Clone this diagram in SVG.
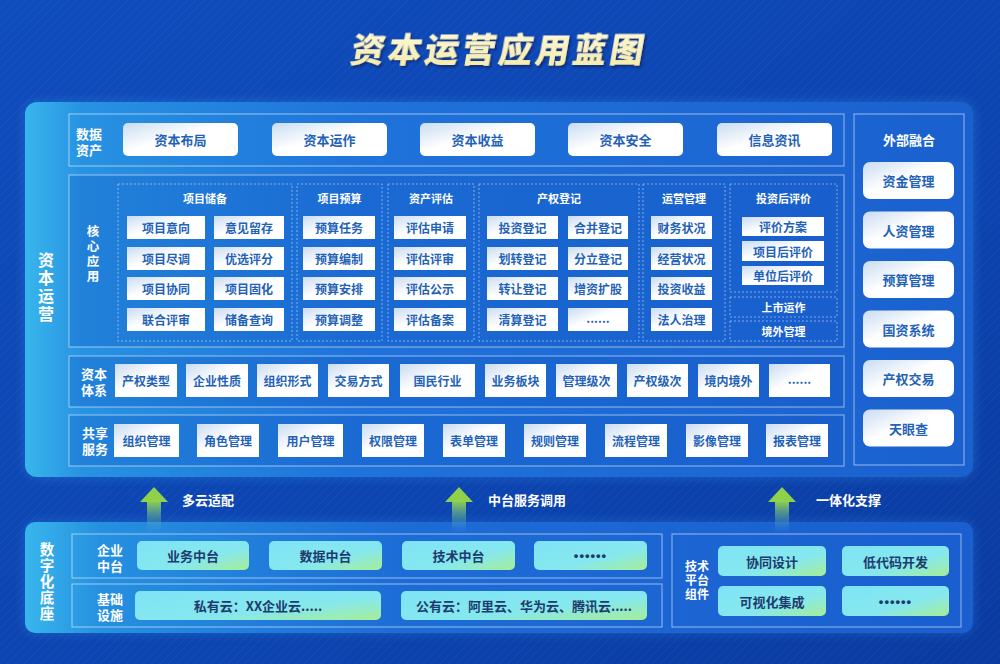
<svg xmlns="http://www.w3.org/2000/svg" width="1000" height="664" viewBox="0 0 1000 664">
<defs>
  <linearGradient id="bg" x1="0" y1="0" x2="1" y2="1">
    <stop offset="0" stop-color="#0f4cbc"/>
    <stop offset="0.6" stop-color="#0c44b0"/>
    <stop offset="1" stop-color="#0a3aa0"/>
  </linearGradient>
  <pattern id="hatch" width="6" height="6" patternUnits="userSpaceOnUse" patternTransform="rotate(45)">
    <line x1="0" y1="0" x2="0" y2="6" stroke="#ffffff" stroke-opacity="0.04" stroke-width="2"/>
  </pattern>
  <linearGradient id="panel" x1="0" y1="0" x2="1" y2="0">
    <stop offset="0" stop-color="#38b6ec"/>
    <stop offset="0.06" stop-color="#2792e2"/>
    <stop offset="0.35" stop-color="#1f73da"/>
    <stop offset="1" stop-color="#1a60cf"/>
  </linearGradient>
  <linearGradient id="panel2" x1="0" y1="0" x2="1" y2="0">
    <stop offset="0" stop-color="#38b6ec"/>
    <stop offset="0.08" stop-color="#2590e0"/>
    <stop offset="0.4" stop-color="#1d6cd6"/>
    <stop offset="1" stop-color="#1a5ecf"/>
  </linearGradient>
  <linearGradient id="btn" x1="0" y1="0" x2="1" y2="1">
    <stop offset="0" stop-color="#c9dcf2"/>
    <stop offset="0.45" stop-color="#ffffff"/>
    <stop offset="1" stop-color="#ffffff"/>
  </linearGradient>
  <linearGradient id="cyan" x1="0" y1="0" x2="1" y2="1">
    <stop offset="0" stop-color="#7fe3f6"/>
    <stop offset="0.6" stop-color="#86e8ee"/>
    <stop offset="1" stop-color="#a6ee96"/>
  </linearGradient>
  <linearGradient id="shaft" x1="0" y1="0" x2="0" y2="1">
    <stop offset="0" stop-color="#8fd14a"/>
    <stop offset="1" stop-color="#4aa0e0" stop-opacity="0"/>
  </linearGradient>
  <linearGradient id="title" x1="0" y1="0" x2="0" y2="1">
    <stop offset="0" stop-color="#fffbe0"/>
    <stop offset="1" stop-color="#f3eaa8"/>
  </linearGradient>
  <filter id="tshadow" x="-10%" y="-30%" width="120%" height="160%">
    <feDropShadow dx="2" dy="2" stdDeviation="0.8" flood-color="#0a2a6a" flood-opacity="0.9"/>
  </filter>
  <filter id="glow" x="-5%" y="-10%" width="110%" height="120%">
    <feGaussianBlur stdDeviation="6"/>
  </filter>
  <style>
    text { font-family: "Noto Sans CJK SC", "Noto Sans", sans-serif; font-weight: 700; }
    .box { fill: none; stroke: #ffffff; stroke-opacity: 0.55; stroke-width: 1; }
    .inner { fill: #0f4fc0; fill-opacity: 0.25; stroke: #ffffff; stroke-opacity: 0.55; stroke-width: 1; }
    .dash { fill: none; stroke: #ffffff; stroke-opacity: 0.45; stroke-width: 1; stroke-dasharray: 2 2; }
    .btn { fill: url(#btn); }
    .cy { fill: url(#cyan); }
    .bt { fill: #1f62b8; font-size: 13px; text-anchor: middle; dominant-baseline: central; }
    .st { fill: #1f62b8; font-size: 12px; text-anchor: middle; dominant-baseline: central; }
    .ct { fill: #1d3c6c; font-size: 13px; text-anchor: middle; dominant-baseline: central; }
    .dots { font-family: "Liberation Sans", sans-serif; font-size: 13px; letter-spacing: 1px; }
    .wl { fill: #ffffff; font-size: 13px; text-anchor: middle; dominant-baseline: central; }
    .gt { fill: #ffffff; font-size: 11px; text-anchor: middle; dominant-baseline: central; }
    .vt { fill: #ffffff; writing-mode: vertical-rl; text-orientation: upright; text-anchor: start; }
    .al { fill: #ffffff; font-size: 13px; dominant-baseline: central; }
    .head { fill: #8fd14a; }
  </style>
</defs>

<rect x="0" y="0" width="1000" height="664" fill="url(#bg)"/>
<rect x="0" y="0" width="1000" height="664" fill="url(#hatch)"/>

<text x="500" y="47" text-anchor="middle" dominant-baseline="central" font-size="34" letter-spacing="3" fill="url(#title)" filter="url(#tshadow)" transform="translate(8 0) skewX(-10)" style="font-weight:900">资本运营应用蓝图</text>

<!-- main panel -->
<g id="main-panel">
  <rect x="25" y="102" width="948" height="375" rx="12" fill="#3aa0f0" opacity="0.35" filter="url(#glow)"/>
  <rect x="25" y="102" width="948" height="375" rx="12" fill="url(#panel)"/>
  <text class="vt" x="46" y="252" font-size="16" letter-spacing="2">资本运营</text>
</g>

<g id="data-assets">
  <rect class="box" x="69" y="114" width="775" height="52"/>
  <text class="wl"><tspan x="89" y="133">数据</tspan><tspan x="89" y="149">资产</tspan></text>
  <rect class="btn" x="123" y="123" width="115" height="33" rx="5"/><text class="bt" x="180.5" y="139.5">资本布局</text>
  <rect class="btn" x="272" y="123" width="115" height="33" rx="5"/><text class="bt" x="329.5" y="139.5">资本运作</text>
  <rect class="btn" x="420" y="123" width="115" height="33" rx="5"/><text class="bt" x="477.5" y="139.5">资本收益</text>
  <rect class="btn" x="568" y="123" width="115" height="33" rx="5"/><text class="bt" x="625.5" y="139.5">资本安全</text>
  <rect class="btn" x="717" y="123" width="115" height="33" rx="5"/><text class="bt" x="774.5" y="139.5">信息资讯</text>
</g>

<g id="core-apps">
  <rect class="inner" x="69" y="175" width="775" height="172"/>
  <text class="vt" x="93" y="224.75" font-size="12.5" letter-spacing="2.5">核心应用</text>

  <g id="proj-reserve">
    <rect class="dash" x="118" y="184" width="174" height="157"/>
    <text class="gt" x="205" y="198">项目储备</text>
    <rect class="btn" x="127" y="216" width="78" height="23"/><text class="st" x="166" y="227.5">项目意向</text>
    <rect class="btn" x="214" y="216" width="70" height="23"/><text class="st" x="249" y="227.5">意见留存</text>
    <rect class="btn" x="127" y="247" width="78" height="23"/><text class="st" x="166" y="258.5">项目尽调</text>
    <rect class="btn" x="214" y="247" width="70" height="23"/><text class="st" x="249" y="258.5">优选评分</text>
    <rect class="btn" x="127" y="277" width="78" height="23"/><text class="st" x="166" y="288.5">项目协同</text>
    <rect class="btn" x="214" y="277" width="70" height="23"/><text class="st" x="249" y="288.5">项目固化</text>
    <rect class="btn" x="127" y="308" width="78" height="23"/><text class="st" x="166" y="319.5">联合评审</text>
    <rect class="btn" x="214" y="308" width="70" height="23"/><text class="st" x="249" y="319.5">储备查询</text>
  </g>

  <g id="proj-budget">
    <rect class="dash" x="297" y="184" width="85" height="157"/>
    <text class="gt" x="339.5" y="198">项目预算</text>
    <rect class="btn" x="303" y="216" width="72" height="23"/><text class="st" x="339" y="227.5">预算任务</text>
    <rect class="btn" x="303" y="247" width="72" height="23"/><text class="st" x="339" y="258.5">预算编制</text>
    <rect class="btn" x="303" y="277" width="72" height="23"/><text class="st" x="339" y="288.5">预算安排</text>
    <rect class="btn" x="303" y="308" width="72" height="23"/><text class="st" x="339" y="319.5">预算调整</text>
  </g>

  <g id="asset-eval">
    <rect class="dash" x="388" y="184" width="86" height="157"/>
    <text class="gt" x="431" y="198">资产评估</text>
    <rect class="btn" x="394" y="216" width="72" height="23"/><text class="st" x="430" y="227.5">评估申请</text>
    <rect class="btn" x="394" y="247" width="72" height="23"/><text class="st" x="430" y="258.5">评估评审</text>
    <rect class="btn" x="394" y="277" width="72" height="23"/><text class="st" x="430" y="288.5">评估公示</text>
    <rect class="btn" x="394" y="308" width="72" height="23"/><text class="st" x="430" y="319.5">评估备案</text>
  </g>

  <g id="property-reg">
    <rect class="dash" x="479" y="184" width="160" height="157"/>
    <text class="gt" x="559" y="198">产权登记</text>
    <rect class="btn" x="487" y="216" width="71" height="23"/><text class="st" x="522.5" y="227.5">投资登记</text>
    <rect class="btn" x="568" y="216" width="60" height="23"/><text class="st" x="598" y="227.5">合并登记</text>
    <rect class="btn" x="487" y="247" width="71" height="23"/><text class="st" x="522.5" y="258.5">划转登记</text>
    <rect class="btn" x="568" y="247" width="60" height="23"/><text class="st" x="598" y="258.5">分立登记</text>
    <rect class="btn" x="487" y="277" width="71" height="23"/><text class="st" x="522.5" y="288.5">转让登记</text>
    <rect class="btn" x="568" y="277" width="60" height="23"/><text class="st" x="598" y="288.5">增资扩股</text>
    <rect class="btn" x="487" y="308" width="71" height="23"/><text class="st" x="522.5" y="319.5">清算登记</text>
    <rect class="btn" x="568" y="308" width="60" height="23"/><text class="st" x="598" y="317">......</text>
  </g>

  <g id="ops-mgmt">
    <rect class="dash" x="643" y="184" width="82" height="157"/>
    <text class="gt" x="684" y="198">运营管理</text>
    <rect class="btn" x="651" y="216" width="61" height="23"/><text class="st" x="681.5" y="227.5">财务状况</text>
    <rect class="btn" x="651" y="247" width="61" height="23"/><text class="st" x="681.5" y="258.5">经营状况</text>
    <rect class="btn" x="651" y="277" width="61" height="23"/><text class="st" x="681.5" y="288.5">投资收益</text>
    <rect class="btn" x="651" y="308" width="61" height="23"/><text class="st" x="681.5" y="319.5">法人治理</text>
  </g>

  <g id="post-eval">
    <rect class="dash" x="730" y="184" width="107" height="108"/>
    <text class="gt" x="783.5" y="198">投资后评价</text>
    <rect class="btn" x="742" y="217" width="82" height="19"/><text class="st" x="783" y="226.5">评价方案</text>
    <rect class="btn" x="742" y="241" width="82" height="20"/><text class="st" x="783" y="251">项目后评价</text>
    <rect class="btn" x="742" y="266" width="82" height="19"/><text class="st" x="783" y="275.5">单位后评价</text>
  </g>
  <g id="listing">
    <rect class="dash" x="730" y="297" width="107" height="20"/>
    <text class="gt" x="783.5" y="307">上市运作</text>
  </g>
  <g id="overseas">
    <rect class="dash" x="730" y="321" width="107" height="20"/>
    <text class="gt" x="783.5" y="331">境外管理</text>
  </g>
</g>

<g id="capital-system">
  <rect class="inner" x="69" y="356" width="775" height="51"/>
  <text class="wl"><tspan x="94" y="373">资本</tspan><tspan x="94" y="389">体系</tspan></text>
  <rect class="btn" x="115" y="364" width="62" height="33"/><text class="st" x="146" y="380.5">产权类型</text>
  <rect class="btn" x="186" y="364" width="62" height="33"/><text class="st" x="217" y="380.5">企业性质</text>
  <rect class="btn" x="257" y="364" width="61" height="33"/><text class="st" x="287.5" y="380.5">组织形式</text>
  <rect class="btn" x="328" y="364" width="61" height="33"/><text class="st" x="358.5" y="380.5">交易方式</text>
  <rect class="btn" x="400" y="364" width="75" height="33"/><text class="st" x="437.5" y="380.5">国民行业</text>
  <rect class="btn" x="485" y="364" width="61" height="33"/><text class="st" x="515.5" y="380.5">业务板块</text>
  <rect class="btn" x="556" y="364" width="61" height="33"/><text class="st" x="586.5" y="380.5">管理级次</text>
  <rect class="btn" x="627" y="364" width="61" height="33"/><text class="st" x="657.5" y="380.5">产权级次</text>
  <rect class="btn" x="698" y="364" width="61" height="33"/><text class="st" x="728.5" y="380.5">境内境外</text>
  <rect class="btn" x="769" y="364" width="61" height="33"/><text class="st" x="799.5" y="378">......</text>
</g>

<g id="shared-services">
  <rect class="inner" x="69" y="415" width="775" height="51"/>
  <text class="wl"><tspan x="95" y="432">共享</tspan><tspan x="95" y="448">服务</tspan></text>
  <rect class="btn" x="114" y="424" width="65" height="33"/><text class="st" x="146.5" y="440.5">组织管理</text>
  <rect class="btn" x="197" y="424" width="62" height="33"/><text class="st" x="228" y="440.5">角色管理</text>
  <rect class="btn" x="278" y="424" width="65" height="33"/><text class="st" x="310.5" y="440.5">用户管理</text>
  <rect class="btn" x="362" y="424" width="62" height="33"/><text class="st" x="393" y="440.5">权限管理</text>
  <rect class="btn" x="443" y="424" width="62" height="33"/><text class="st" x="474" y="440.5">表单管理</text>
  <rect class="btn" x="524" y="424" width="62" height="33"/><text class="st" x="555" y="440.5">规则管理</text>
  <rect class="btn" x="605" y="424" width="62" height="33"/><text class="st" x="636" y="440.5">流程管理</text>
  <rect class="btn" x="686" y="424" width="62" height="33"/><text class="st" x="717" y="440.5">影像管理</text>
  <rect class="btn" x="766" y="424" width="62" height="33"/><text class="st" x="797" y="440.5">报表管理</text>
</g>

<g id="external">
  <rect class="box" x="854" y="114" width="110" height="351"/>
  <text class="wl" x="909" y="139">外部融合</text>
  <rect class="btn" x="863" y="162" width="91" height="37" rx="7"/><text class="bt" x="908.5" y="180.5">资金管理</text>
  <rect class="btn" x="863" y="211.5" width="91" height="37" rx="7"/><text class="bt" x="908.5" y="230">人资管理</text>
  <rect class="btn" x="863" y="261" width="91" height="37" rx="7"/><text class="bt" x="908.5" y="279.5">预算管理</text>
  <rect class="btn" x="863" y="310.5" width="91" height="37" rx="7"/><text class="bt" x="908.5" y="329">国资系统</text>
  <rect class="btn" x="863" y="360" width="91" height="37" rx="7"/><text class="bt" x="908.5" y="378.5">产权交易</text>
  <rect class="btn" x="863" y="409.5" width="91" height="37" rx="7"/><text class="bt" x="908.5" y="428">天眼查</text>
</g>

<!-- bottom panel -->
<g id="digital-base">
  <rect x="25" y="522" width="948" height="111" rx="10" fill="#3aa0f0" opacity="0.3" filter="url(#glow)"/>
  <rect x="25" y="522" width="948" height="111" rx="10" fill="url(#panel2)"/>
  <text class="vt" x="47" y="541.75" font-size="14.5" letter-spacing="1.5">数字化底座</text>
</g>

<g id="enterprise-platform">
  <rect class="box" x="72" y="534" width="590" height="44"/>
  <text class="wl"><tspan x="110" y="549">企业</tspan><tspan x="110" y="565">中台</tspan></text>
  <rect class="cy" x="137" y="541" width="112" height="29" rx="5"/><text class="ct" x="193" y="555.5">业务中台</text>
  <rect class="cy" x="269" y="541" width="113" height="29" rx="5"/><text class="ct" x="325.5" y="555.5">数据中台</text>
  <rect class="cy" x="402" y="541" width="113" height="29" rx="5"/><text class="ct" x="458.5" y="555.5">技术中台</text>
  <rect class="cy" x="534" y="541" width="113" height="29" rx="5"/><text class="ct dots" x="590.5" y="555.5">••••••</text>
</g>

<g id="infrastructure">
  <rect class="box" x="72" y="584" width="590" height="43"/>
  <text class="wl"><tspan x="110" y="598">基础</tspan><tspan x="110" y="614">设施</tspan></text>
  <rect class="cy" x="135" y="591" width="246" height="29" rx="5"/><text class="ct" x="258" y="605.5">私有云：XX企业云.....</text>
  <rect class="cy" x="401" y="591" width="246" height="29" rx="5"/><text class="ct" x="524" y="605.5">公有云：阿里云、华为云、腾讯云.....</text>
</g>

<g id="tech-components">
  <rect class="box" x="672" y="534" width="289" height="93"/>
  <text class="wl" style="font-size:12px"><tspan x="697" y="565">技术</tspan><tspan x="697" y="579">平台</tspan><tspan x="697" y="593">组件</tspan></text>
  <rect class="cy" x="718" y="546" width="108" height="30" rx="5"/><text class="ct" x="772" y="561">协同设计</text>
  <rect class="cy" x="842" y="546" width="107" height="30" rx="5"/><text class="ct" x="895.5" y="561">低代码开发</text>
  <rect class="cy" x="718" y="586" width="108" height="30" rx="5"/><text class="ct" x="772" y="601">可视化集成</text>
  <rect class="cy" x="842" y="586" width="107" height="30" rx="5"/><text class="ct dots" x="895.5" y="601">••••••</text>
</g>

<g id="connectors">
  <rect x="147" y="501" width="14" height="32" fill="url(#shaft)"/>
  <polygon class="head" points="140,502 154,487 168,502"/>
  <rect x="452" y="501" width="14" height="32" fill="url(#shaft)"/>
  <polygon class="head" points="445,502 459,487 473,502"/>
  <rect x="775" y="501" width="14" height="32" fill="url(#shaft)"/>
  <polygon class="head" points="768,502 782,487 796,502"/>
  <text class="al" x="182" y="499">多云适配</text>
  <text class="al" x="488" y="499">中台服务调用</text>
  <text class="al" x="816" y="499">一体化支撑</text>
</g>
</svg>
